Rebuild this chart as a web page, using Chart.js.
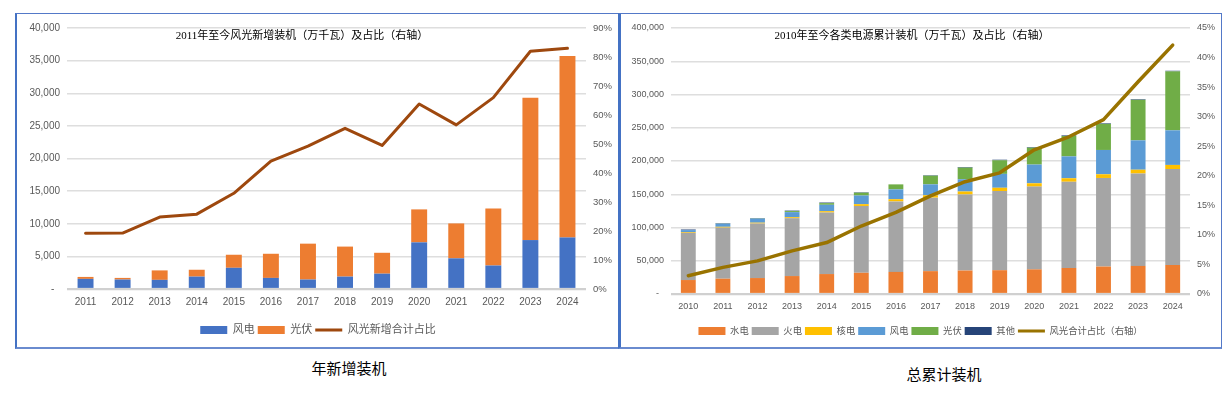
<!DOCTYPE html>
<html><head><meta charset="utf-8">
<script src="https://cdn.jsdelivr.net/npm/chart.js@4.4.1/dist/chart.umd.min.js"></script>
<style>
html,body{margin:0;padding:0;background:#fff;width:1228px;height:397px;overflow:hidden;}
.box{position:absolute;box-sizing:border-box;border:1px solid #5479C8;}
#boxL{left:15px;top:13px;width:605px;height:336px;border-left:2px solid #4472C4;border-bottom:2px solid #6A8BCF;}
#boxR{left:618px;top:13px;width:604px;height:336px;border-left:3px solid #4472C4;border-bottom:2px solid #6A8BCF;}
canvas{position:absolute;}
#cL{left:18px;top:15px;}
#cR{left:622px;top:15px;}
.title{position:absolute;font-family:'Liberation Serif','Noto Sans CJK SC',serif;font-size:11px;color:#000;white-space:nowrap;transform:translate(-50%,-50%);}
.cap{position:absolute;font-family:'Noto Sans CJK SC',sans-serif;font-size:15px;color:#000;white-space:nowrap;transform:translate(-50%,-50%);}
</style></head>
<body>
<div class="box" id="boxL"></div>
<div class="box" id="boxR"></div>
<canvas id="cL" width="600" height="331"></canvas>
<canvas id="cR" width="597" height="331"></canvas>
<div class="title" style="left:302px;top:34px;">2011年至今风光新增装机（万千瓦）及占比（右轴）</div>
<div class="title" style="left:912px;top:34px;">2010年至今各类电源累计装机（万千瓦）及占比（右轴）</div>
<div class="cap" style="left:349px;top:367px;">年新增装机</div>
<div class="cap" style="left:944px;top:373px;">总累计装机</div>
<script>
// ---- Left chart data (年新增装机, 万千瓦) ----
const newYears = ['2011','2012','2013','2014','2015','2016','2017','2018','2019','2020','2021','2022','2023','2024'];
const windNew  = [1550,1450,1400,1900,3250,1700,1450,1900,2350,7150,4700,3600,7500,7900];
const solarNew = [300,250,1450,1050,2000,3700,5500,4600,3200,5050,5350,8750,21800,27800];
const shareNew = [19.2,19.3,24.8,25.8,33.0,44.1,49.3,55.4,49.5,63.8,56.6,66.0,82.0,83.0];
const newLabels = ['风电','光伏','风光新增合计占比'];

// ---- Right chart data (累计装机, 万千瓦) ----
const cumYears   = ['2010','2011','2012','2013','2014','2015','2016','2017','2018','2019','2020','2021','2022','2023','2024'];
const hydroCum   = [21000,23000,24000,27000,30000,31900,33200,34400,35300,35800,37000,39100,41300,42200,43600];
const thermalCum = [71000,76800,82000,87000,92500,100500,106000,110500,114400,119100,124500,129700,133200,139000,144400];
const nuclearCum = [1100,1250,1250,1470,2000,2700,3350,3600,4450,4850,5000,5300,5550,5700,6100];
const windCum    = [3000,4600,6100,7650,9650,13000,14700,16400,18400,20900,28150,32850,36550,44150,52050];
const solarCum   = [0,200,350,1600,2500,4200,7600,13000,17500,20400,25350,30650,39250,60950,88650];
const otherCum   = [900,700,600,700,900,700,0,700,900,900,900,900,900,900,900];
const shareCum   = [3.1,4.5,5.6,7.3,8.7,11.5,13.8,16.6,19.0,20.5,24.4,26.6,29.5,35.9,42.1];
const cumLabels  = ['水电','火电','核电','风电','光伏','其他','风光合计占比（右轴）'];

Chart.defaults.font.family = "'Liberation Sans','Noto Sans CJK SC',sans-serif";
Chart.defaults.color = '#595959';
Chart.defaults.animation = false;

const fmt = v => v === 0 ? '-  ' : v.toLocaleString('en-US');
const gridOpts = {
  drawTicks:false,
  color: c => (c.tick && c.tick.value === 0) ? '#D0D0D0' : '#DEDEDE',
  lineWidth: c => (c.tick && c.tick.value === 0) ? 2.2 : 1.4
};

function legendLabels(fontSize){
  return {
    usePointStyle:true, pointStyleWidth:27, boxHeight:8, padding:3,
    font:{size:fontSize}, color:'#595959',
    sort:(a,b)=>a.datasetIndex-b.datasetIndex,
    generateLabels: chart => {
      const items = Chart.defaults.plugins.legend.labels.generateLabels(chart);
      items.forEach(it => {
        const ds = chart.data.datasets[it.datasetIndex];
        if (ds.type === 'line') { it.pointStyle='line'; it.lineWidth=3; it.strokeStyle=ds.borderColor; it.fillStyle=ds.borderColor; }
        else { it.pointStyle='rect'; it.lineWidth=0; it.fillStyle=ds.backgroundColor; it.strokeStyle=ds.backgroundColor; }
      });
      return items;
    }
  };
}

function barDs(label, data, color){
  return {type:'bar', label, data, backgroundColor:color, borderWidth:0, yAxisID:'y', order:2,
          categoryPercentage:0.43, barPercentage:1};
}
function lineDs(label, data, color, w){
  return {type:'line', label, data, borderColor:color, backgroundColor:color, borderWidth:w,
          pointRadius:0, tension:0, yAxisID:'y1', order:0, borderJoinStyle:'round', borderCapStyle:'round'};
}

new Chart(document.getElementById('cL'), {
  data:{
    labels:newYears,
    datasets:[
      barDs(newLabels[0], windNew, '#4472C4'),
      barDs(newLabels[1], solarNew, '#ED7D31'),
      lineDs(newLabels[2], shareNew, '#9E480E', 3)
    ]
  },
  options:{
    responsive:false,
    layout:{autoPadding:false, padding:{top:13,bottom:0.5,left:0,right:0}},
    plugins:{legend:{position:'bottom', labels:legendLabels(11)}, tooltip:{enabled:false}},
    scales:{
      x:{stacked:true, grid:{display:false, drawTicks:false}, border:{display:false},
         ticks:{font:{size:10}, padding:7, maxRotation:0}, afterFit:s=>{s.height=32.5;}},
      y:{stacked:true, min:0, max:40000, position:'left', grid:gridOpts, border:{display:false},
         ticks:{stepSize:5000, font:{size:10}, padding:7, callback:fmt}, afterFit:s=>{s.width=49;}},
      y1:{min:0, max:90, position:'right', grid:{display:false, drawTicks:false}, border:{display:false},
         ticks:{stepSize:10, font:{size:9.5}, padding:7, callback:v=>v+'%'}, afterFit:s=>{s.width=32;}}
    }
  }
});

new Chart(document.getElementById('cR'), {
  data:{
    labels:cumYears,
    datasets:[
      barDs(cumLabels[0], hydroCum, '#ED7D31'),
      barDs(cumLabels[1], thermalCum, '#A5A5A5'),
      barDs(cumLabels[2], nuclearCum, '#FFC000'),
      barDs(cumLabels[3], windCum, '#5B9BD5'),
      barDs(cumLabels[4], solarCum, '#70AD47'),
      barDs(cumLabels[5], otherCum, '#264478'),
      lineDs(cumLabels[6], shareCum, '#997300', 3.5)
    ]
  },
  options:{
    responsive:false,
    layout:{autoPadding:false, padding:{top:13,bottom:0.35,left:0,right:0}},
    plugins:{legend:{position:'bottom', labels:legendLabels(9.3)}, tooltip:{enabled:false}},
    scales:{
      x:{stacked:true, grid:{display:false, drawTicks:false}, border:{display:false},
         ticks:{font:{size:9}, padding:7.5, maxRotation:0}, afterFit:s=>{s.height=29.35;}},
      y:{stacked:true, min:0, max:400000, position:'left', grid:gridOpts, border:{display:false},
         ticks:{stepSize:50000, font:{size:9}, padding:7, callback:fmt}, afterFit:s=>{s.width=49;}},
      y1:{min:0, max:45, position:'right', grid:{display:false, drawTicks:false}, border:{display:false},
         ticks:{stepSize:5, font:{size:9}, padding:7, callback:v=>v+'%'}, afterFit:s=>{s.width=29;}}
    }
  }
});
</script>
</body></html>
